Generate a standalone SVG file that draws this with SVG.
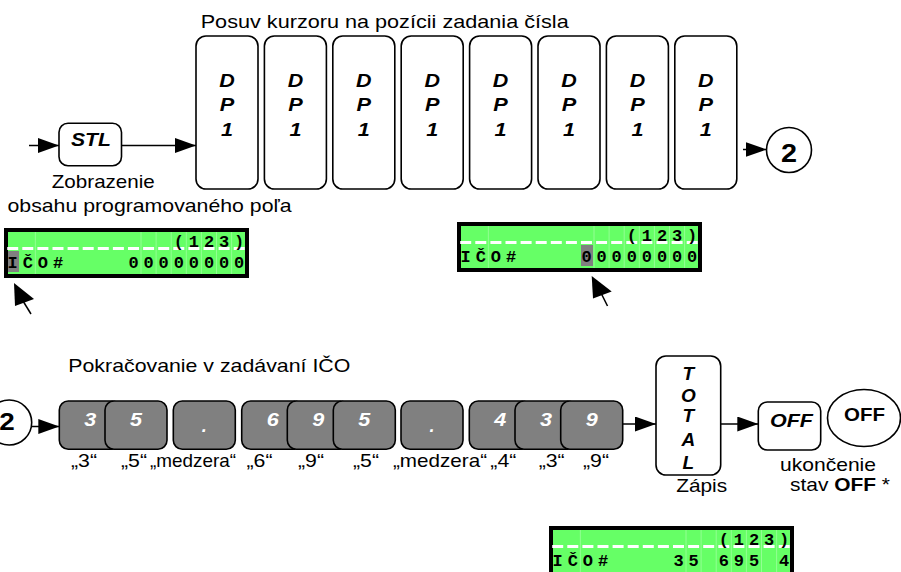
<svg xmlns="http://www.w3.org/2000/svg" width="901" height="572" viewBox="0 0 901 572">
<style>
.t{font-family:"Liberation Sans",Arial,sans-serif;font-size:19px;fill:#000}
.bi{font-family:"Liberation Sans",Arial,sans-serif;font-weight:bold;font-style:italic;font-size:19px;fill:#000;text-anchor:middle}
.b{font-family:"Liberation Sans",Arial,sans-serif;font-weight:bold;fill:#000;text-anchor:middle}
.wl{font-family:"Liberation Sans",Arial,sans-serif;font-weight:bold;font-style:italic;font-size:18px;fill:#fff;text-anchor:middle}
.c{text-anchor:middle}
.box{fill:#fff;stroke:#000;stroke-width:1.6}
.gkey{fill:#808080;stroke:#000;stroke-width:1.6}
.ln{stroke:#000;stroke-width:1.5;fill:none}
.lcdbg{fill:#66ff66;stroke:#000;stroke-width:4}
.grid{stroke:#93ff93;stroke-width:1}
.dash{stroke:#fff;stroke-width:3;stroke-dasharray:11 4.1}
.lcd text{font-family:"Liberation Mono","Courier New",monospace;font-weight:bold;font-size:17px;fill:#000;text-anchor:middle}
.hl{fill:#808080}
</style>
<defs>
<marker id="ah" markerUnits="userSpaceOnUse" markerWidth="22" markerHeight="16" refX="21" refY="7.5" orient="auto"><path d="M0,0 L21,7.5 L0,15 z" fill="#000"/></marker>
<g id="lcdbase">
<rect class="lcdbg" x="2" y="2" width="241" height="46"/>
<path class="grid" d="M31.35,4V46M137,4V46M152.1,4V46M167.2,4V46M182.3,4V46M197.4,4V46M212.5,4V46M227.6,4V46"/>
<line class="dash" x1="3.2" y1="20.5" x2="242" y2="20.5"/>
</g>
</defs>

<text class="t" x="200.7" y="28.3" textLength="368" lengthAdjust="spacingAndGlyphs">Posuv kurzoru na pozícii zadania čísla</text>

<g id="stl">
<rect class="box" x="59" y="123.3" width="62.5" height="42.5" rx="9"/>
<text class="bi" x="91" y="146" font-size="18" textLength="40" lengthAdjust="spacingAndGlyphs">STL</text>
<text class="t c" x="103.3" y="188.3" textLength="103" lengthAdjust="spacingAndGlyphs">Zobrazenie</text>
<text class="t c" x="149.5" y="211.7" textLength="284" lengthAdjust="spacingAndGlyphs">obsahu programovaného poľa</text>
</g>

<g id="dp1"><rect class="box" x="196" y="36" width="62" height="153" rx="10"/><text class="bi" x="227" y="87.3" textLength="15.5" lengthAdjust="spacingAndGlyphs">D</text><text class="bi" x="227" y="111" textLength="14.5" lengthAdjust="spacingAndGlyphs">P</text><text class="bi" x="227" y="135.7" textLength="12" lengthAdjust="spacingAndGlyphs">1</text></g>
<g id="dp2"><rect class="box" x="264.4" y="36" width="62" height="153" rx="10"/><text class="bi" x="295.4" y="87.3" textLength="15.5" lengthAdjust="spacingAndGlyphs">D</text><text class="bi" x="295.4" y="111" textLength="14.5" lengthAdjust="spacingAndGlyphs">P</text><text class="bi" x="295.4" y="135.7" textLength="12" lengthAdjust="spacingAndGlyphs">1</text></g>
<g id="dp3"><rect class="box" x="332.8" y="36" width="62" height="153" rx="10"/><text class="bi" x="363.8" y="87.3" textLength="15.5" lengthAdjust="spacingAndGlyphs">D</text><text class="bi" x="363.8" y="111" textLength="14.5" lengthAdjust="spacingAndGlyphs">P</text><text class="bi" x="363.8" y="135.7" textLength="12" lengthAdjust="spacingAndGlyphs">1</text></g>
<g id="dp4"><rect class="box" x="401.2" y="36" width="62" height="153" rx="10"/><text class="bi" x="432.2" y="87.3" textLength="15.5" lengthAdjust="spacingAndGlyphs">D</text><text class="bi" x="432.2" y="111" textLength="14.5" lengthAdjust="spacingAndGlyphs">P</text><text class="bi" x="432.2" y="135.7" textLength="12" lengthAdjust="spacingAndGlyphs">1</text></g>
<g id="dp5"><rect class="box" x="469.6" y="36" width="62" height="153" rx="10"/><text class="bi" x="500.6" y="87.3" textLength="15.5" lengthAdjust="spacingAndGlyphs">D</text><text class="bi" x="500.6" y="111" textLength="14.5" lengthAdjust="spacingAndGlyphs">P</text><text class="bi" x="500.6" y="135.7" textLength="12" lengthAdjust="spacingAndGlyphs">1</text></g>
<g id="dp6"><rect class="box" x="538" y="36" width="62" height="153" rx="10"/><text class="bi" x="569" y="87.3" textLength="15.5" lengthAdjust="spacingAndGlyphs">D</text><text class="bi" x="569" y="111" textLength="14.5" lengthAdjust="spacingAndGlyphs">P</text><text class="bi" x="569" y="135.7" textLength="12" lengthAdjust="spacingAndGlyphs">1</text></g>
<g id="dp7"><rect class="box" x="606.4" y="36" width="62" height="153" rx="10"/><text class="bi" x="637.4" y="87.3" textLength="15.5" lengthAdjust="spacingAndGlyphs">D</text><text class="bi" x="637.4" y="111" textLength="14.5" lengthAdjust="spacingAndGlyphs">P</text><text class="bi" x="637.4" y="135.7" textLength="12" lengthAdjust="spacingAndGlyphs">1</text></g>
<g id="dp8"><rect class="box" x="674.8" y="36" width="62" height="153" rx="10"/><text class="bi" x="705.8" y="87.3" textLength="15.5" lengthAdjust="spacingAndGlyphs">D</text><text class="bi" x="705.8" y="111" textLength="14.5" lengthAdjust="spacingAndGlyphs">P</text><text class="bi" x="705.8" y="135.7" textLength="12" lengthAdjust="spacingAndGlyphs">1</text></g>

<g id="c2top">
<circle class="box" cx="789" cy="150" r="22.5"/>
<text class="b" x="789" y="161.7" font-size="25" textLength="16" lengthAdjust="spacingAndGlyphs">2</text>
</g>

<g id="lcd1" class="lcd" transform="translate(4,228)">
<use href="#lcdbase"/>
<rect class="hl" x="4" y="23" width="11" height="21"/>
<text x="174.8 189.9 205 220.1 235.2" y="19">(123)</text>
<text x="8.7 23.8 38.9 54 129.5 144.6 159.7 174.8 189.9 205 220.1 235.2" y="40">IČO#00000000</text>
</g>
<g id="ptr1">
<path d="M14,283 L34,299 L15,306 z" fill="#000"/>
<line class="ln" x1="23" y1="301" x2="31" y2="314"/>
</g>

<g id="lcd2" class="lcd" transform="translate(457,222)">
<use href="#lcdbase"/>
<rect class="hl" x="124" y="23" width="12" height="21"/>
<text x="174.8 189.9 205 220.1 235.2" y="19">(123)</text>
<text x="8.7 23.8 38.9 54 129.5 144.6 159.7 174.8 189.9 205 220.1 235.2" y="40">IČO#00000000</text>
</g>
<g id="ptr2">
<path d="M591.7,276 L611.7,291.5 L593,298.5 z" fill="#000"/>
<line class="ln" x1="601" y1="293" x2="607.5" y2="306"/>
</g>

<text class="t" x="68.3" y="371.7" textLength="282" lengthAdjust="spacingAndGlyphs">Pokračovanie v zadávaní IČO</text>

<g id="c2bottom">
<circle class="box" cx="9.2" cy="422.5" r="22.5"/>
<text class="b" x="7" y="430" font-size="24" textLength="15.5" lengthAdjust="spacingAndGlyphs">2</text>
</g>

<g id="k1"><rect class="gkey" x="59.3" y="401" width="62" height="48.3" rx="9"/><text class="wl" x="90.3" y="425.5" textLength="12" lengthAdjust="spacingAndGlyphs">3</text></g>
<g id="k2"><rect class="gkey" x="105" y="401" width="62" height="48.3" rx="9"/><text class="wl" x="136" y="425.5" textLength="12" lengthAdjust="spacingAndGlyphs">5</text></g>
<g id="k3"><rect class="gkey" x="173.3" y="401" width="62" height="48.3" rx="9"/><text class="wl" x="204.3" y="432">.</text></g>
<g id="k4"><rect class="gkey" x="241.7" y="401" width="62" height="48.3" rx="9"/><text class="wl" x="272.7" y="425.5" textLength="12" lengthAdjust="spacingAndGlyphs">6</text></g>
<g id="k5"><rect class="gkey" x="287.3" y="401" width="62" height="48.3" rx="9"/><text class="wl" x="318.3" y="425.5" textLength="12" lengthAdjust="spacingAndGlyphs">9</text></g>
<g id="k6"><rect class="gkey" x="333.3" y="401" width="62" height="48.3" rx="9"/><text class="wl" x="364.3" y="425.5" textLength="12" lengthAdjust="spacingAndGlyphs">5</text></g>
<g id="k7"><rect class="gkey" x="401" y="401" width="62" height="48.3" rx="9"/><text class="wl" x="432" y="432">.</text></g>
<g id="k8"><rect class="gkey" x="469.3" y="401" width="62" height="48.3" rx="9"/><text class="wl" x="500.3" y="425.5" textLength="12" lengthAdjust="spacingAndGlyphs">4</text></g>
<g id="k9"><rect class="gkey" x="515" y="401" width="62" height="48.3" rx="9"/><text class="wl" x="546" y="425.5" textLength="12" lengthAdjust="spacingAndGlyphs">3</text></g>
<g id="k10"><rect class="gkey" x="560.7" y="401" width="62" height="48.3" rx="9"/><text class="wl" x="591.7" y="425.5" textLength="12" lengthAdjust="spacingAndGlyphs">9</text></g>

<g id="keylabels">
<text class="t c" x="84" y="466.7" textLength="26" lengthAdjust="spacingAndGlyphs">„3“</text>
<text class="t c" x="134" y="466.7" textLength="26" lengthAdjust="spacingAndGlyphs">„5“</text>
<text class="t c" x="193" y="466.7" textLength="86" lengthAdjust="spacingAndGlyphs">„medzera“</text>
<text class="t c" x="259.5" y="466.7" textLength="26" lengthAdjust="spacingAndGlyphs">„6“</text>
<text class="t c" x="311" y="466.7" textLength="26" lengthAdjust="spacingAndGlyphs">„9“</text>
<text class="t c" x="366" y="466.7" textLength="26" lengthAdjust="spacingAndGlyphs">„5“</text>
<text class="t c" x="440" y="466.7" textLength="94" lengthAdjust="spacingAndGlyphs">„medzera“</text>
<text class="t c" x="503.3" y="466.7" textLength="26" lengthAdjust="spacingAndGlyphs">„4“</text>
<text class="t c" x="551.7" y="466.7" textLength="26" lengthAdjust="spacingAndGlyphs">„3“</text>
<text class="t c" x="596" y="466.7" textLength="26" lengthAdjust="spacingAndGlyphs">„9“</text>
</g>

<g id="total">
<rect class="box" x="656" y="356" width="64.7" height="119" rx="10"/>
<text class="bi" x="688.3" y="380" font-size="16">T</text>
<text class="bi" x="688.3" y="401.7" font-size="16">O</text>
<text class="bi" x="688.3" y="421.7" font-size="16">T</text>
<text class="bi" x="688.3" y="446" font-size="16">A</text>
<text class="bi" x="688.3" y="469" font-size="16">L</text>
<text class="t c" x="701.7" y="491.7" textLength="51" lengthAdjust="spacingAndGlyphs">Zápis</text>
</g>

<g id="offkey">
<rect class="box" x="758.3" y="402" width="62.4" height="48" rx="9"/>
<text class="bi" x="791.5" y="427" textLength="43" lengthAdjust="spacingAndGlyphs">OFF</text>
</g>
<g id="offstate">
<ellipse class="box" cx="864" cy="418" rx="36.5" ry="28.5"/>
<text class="b" x="864.5" y="420.5" font-size="19" textLength="41" lengthAdjust="spacingAndGlyphs">OFF</text>
<text class="t c" x="828" y="470.7" font-size="17" textLength="96" lengthAdjust="spacingAndGlyphs">ukončenie</text>
<text class="t c" x="840" y="491" font-size="17" textLength="100" lengthAdjust="spacingAndGlyphs">stav <tspan font-weight="bold">OFF</tspan> *</text>
</g>

<g id="lcd3" class="lcd" transform="translate(549,526)">
<use href="#lcdbase"/>
<text x="174.8 189.9 205 220.1 235.2" y="19">(123)</text>
<text x="8.7 23.8 38.9 54 129.5 144.6 174.8 189.9 205 235.2" y="40">IČO#356954</text>
</g>

<g id="connectors">
<line class="ln" x1="29" y1="145.5" x2="59" y2="145.5" marker-end="url(#ah)"/>
<line class="ln" x1="121.5" y1="145.5" x2="196" y2="145.5" marker-end="url(#ah)"/>
<line class="ln" x1="743" y1="149.5" x2="766.5" y2="149.5" marker-end="url(#ah)"/>
<line class="ln" x1="31.7" y1="426.5" x2="59.3" y2="426.5" marker-end="url(#ah)"/>
<line class="ln" x1="622.7" y1="424" x2="656" y2="424" marker-end="url(#ah)"/>
<line class="ln" x1="720.7" y1="424" x2="758.3" y2="424" marker-end="url(#ah)"/>
</g>
</svg>
